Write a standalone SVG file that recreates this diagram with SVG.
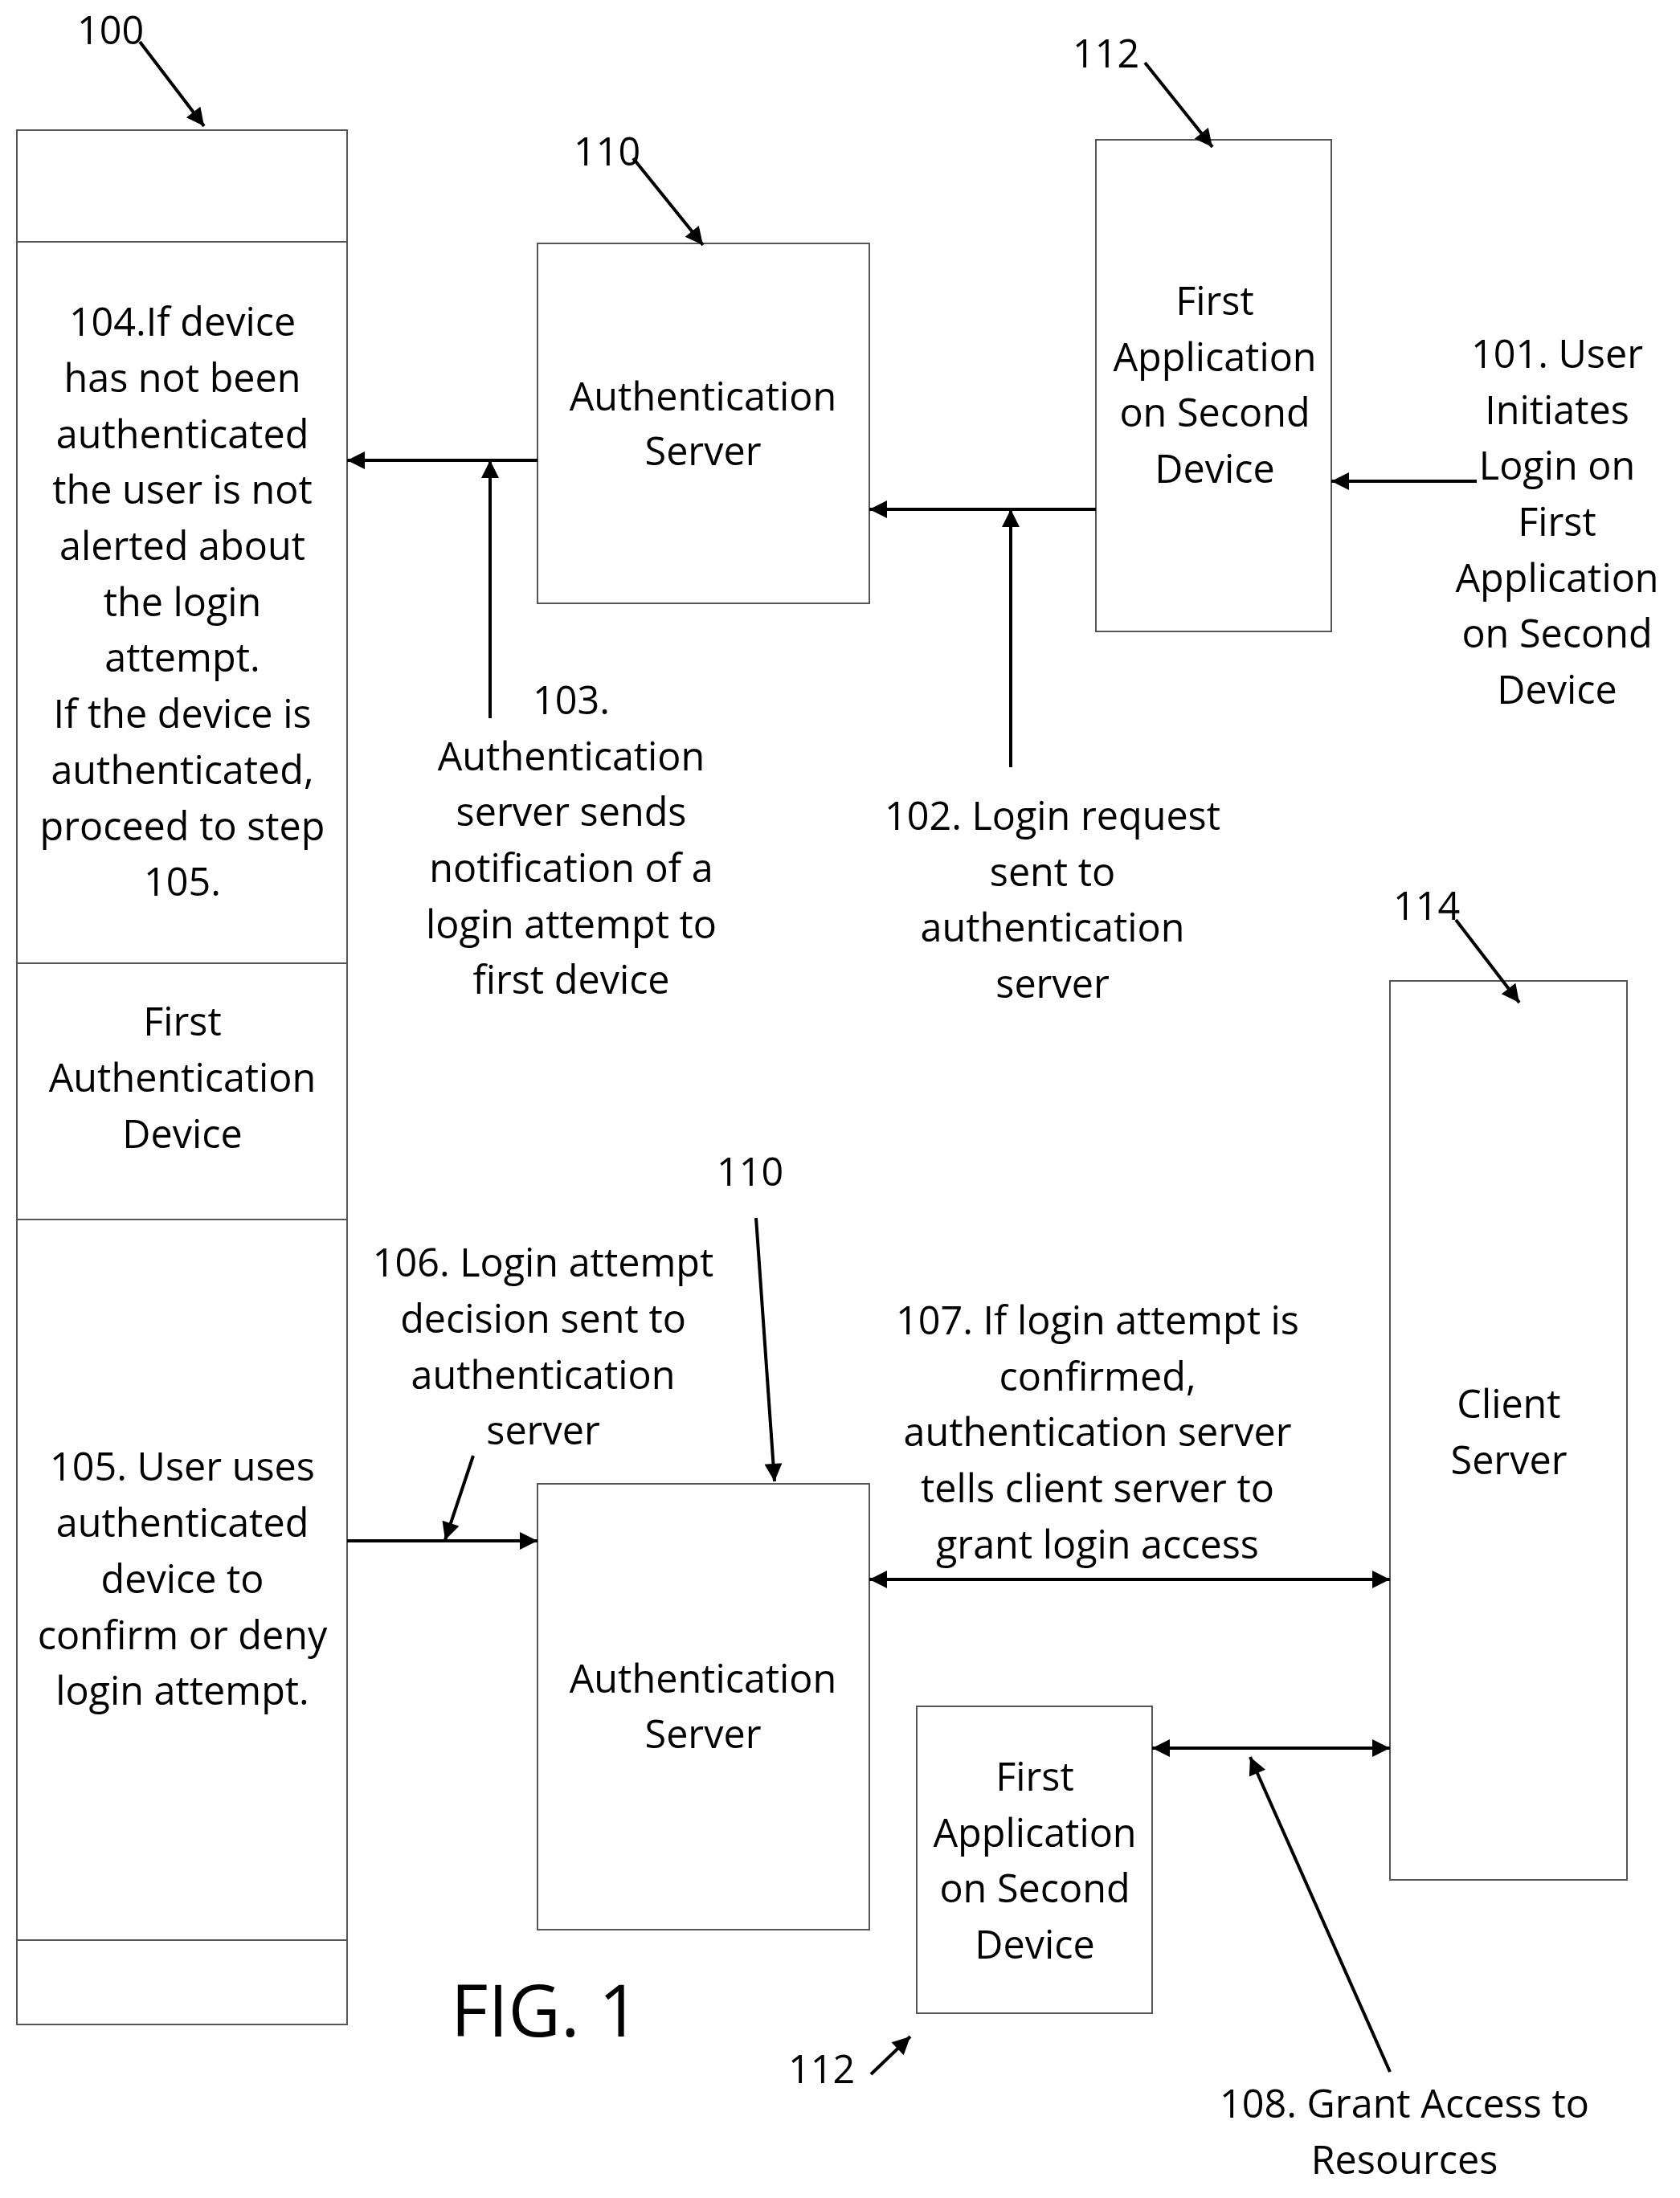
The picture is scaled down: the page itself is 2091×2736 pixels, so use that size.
<svg xmlns="http://www.w3.org/2000/svg" width="2091" height="2736" viewBox="0 0 2091 2736">
<style>
rect{fill:#fff;stroke:#555;stroke-width:2}
.l{stroke:#000;stroke-width:4;fill:none}
text{font-family:"Open Sans","Noto Sans",sans-serif;font-size:48.5px;fill:#000;text-anchor:middle}
.s{text-anchor:start}
</style>
<defs>
<marker id="a" viewBox="0 0 10 10" refX="10" refY="5" markerWidth="6" markerHeight="5.5" orient="auto-start-reverse" markerUnits="strokeWidth"><path d="M0,0L10,5L0,10z" fill="#000"/></marker>
</defs>
<rect width="2091" height="2736" style="stroke:none"/>
<g id="device100">
<rect x="21" y="162" width="411" height="2358"/>
<line x1="21" y1="301" x2="432" y2="301" stroke="#555" stroke-width="2"/>
<line x1="21" y1="1199" x2="432" y2="1199" stroke="#555" stroke-width="2"/>
<line x1="21" y1="1518" x2="432" y2="1518" stroke="#555" stroke-width="2"/>
<line x1="21" y1="2415" x2="432" y2="2415" stroke="#555" stroke-width="2"/>
<text x="227" y="418">104.If device</text><text x="227" y="488">has not been</text><text x="227" y="558">authenticated</text><text x="227" y="627">the user is not</text><text x="227" y="697">alerted about</text><text x="227" y="767">the login</text><text x="227" y="836">attempt.</text><text x="227" y="906">If the device is</text><text x="227" y="976">authenticated,</text><text x="227" y="1046">proceed to step</text><text x="227" y="1115">105.</text>
<text x="227" y="1289">First</text><text x="227" y="1359">Authentication</text><text x="227" y="1429">Device</text>
<text x="227" y="1843">105. User uses</text><text x="227" y="1913">authenticated</text><text x="227" y="1983">device to</text><text x="227" y="2053">confirm or deny</text><text x="227" y="2122">login attempt.</text>
</g>
<g id="auth1"><rect x="669" y="303" width="413" height="448"/><text x="875" y="511">Authentication</text><text x="875" y="579">Server</text></g>
<g id="app1"><rect x="1364" y="174" width="293" height="612"/><text x="1512" y="392">First</text><text x="1512" y="462">Application</text><text x="1512" y="531">on Second</text><text x="1512" y="601">Device</text></g>
<g id="client"><rect x="1730" y="1221" width="295" height="1119"/><text x="1878" y="1765">Client</text><text x="1878" y="1835">Server</text></g>
<g id="auth2"><rect x="669" y="1847" width="413" height="555"/><text x="875" y="2107">Authentication</text><text x="875" y="2176">Server</text></g>
<g id="app2"><rect x="1141" y="2124" width="293" height="382"/><text x="1288" y="2229">First</text><text x="1288" y="2299">Application</text><text x="1288" y="2368">on Second</text><text x="1288" y="2438">Device</text></g>
<g id="connectors" class="l">
<line x1="1838" y1="599" x2="1657" y2="599" marker-end="url(#a)"/>
<line x1="1364" y1="634" x2="1082" y2="634" marker-end="url(#a)"/>
<line x1="1258" y1="955" x2="1258" y2="634" marker-end="url(#a)"/>
<line x1="669" y1="573" x2="432" y2="573" marker-end="url(#a)"/>
<line x1="610" y1="894" x2="610" y2="573" marker-end="url(#a)"/>
<line x1="432" y1="1918" x2="669" y2="1918" marker-end="url(#a)"/>
<line x1="589" y1="1812" x2="554" y2="1917" marker-end="url(#a)"/>
<line x1="941" y1="1516" x2="964" y2="1844" marker-end="url(#a)"/>
<line x1="1082" y1="1966" x2="1730" y2="1966" marker-start="url(#a)" marker-end="url(#a)"/>
<line x1="1434" y1="2176" x2="1730" y2="2176" marker-start="url(#a)" marker-end="url(#a)"/>
<line x1="1730" y1="2579" x2="1556" y2="2187" marker-end="url(#a)"/>
<line x1="174" y1="52" x2="254" y2="157" marker-end="url(#a)"/>
<line x1="788" y1="197" x2="875" y2="305" marker-end="url(#a)"/>
<line x1="1425" y1="78" x2="1509" y2="183" marker-end="url(#a)"/>
<line x1="1812" y1="1145" x2="1891" y2="1248" marker-end="url(#a)"/>
<line x1="1084" y1="2582" x2="1133" y2="2535" marker-end="url(#a)"/>
</g>
<g id="labels">
<text class="s" x="96" y="55">100</text>
<text class="s" x="714" y="206">110</text>
<text class="s" x="1335" y="84">112</text>
<text class="s" x="1734" y="1145">114</text>
<text class="s" x="892" y="1476">110</text>
<text class="s" x="981" y="2593">112</text>
<text class="s" x="561" y="2535" style="font-size:90px">FIG. 1</text>
<text x="1938" y="458">101. User</text><text x="1938" y="528">Initiates</text><text x="1938" y="597">Login on</text><text x="1938" y="667">First</text><text x="1938" y="737">Application</text><text x="1938" y="806">on Second</text><text x="1938" y="876">Device</text>
<text x="711" y="889">103.</text><text x="711" y="959">Authentication</text><text x="711" y="1028">server sends</text><text x="711" y="1098">notification of a</text><text x="711" y="1168">login attempt to</text><text x="711" y="1237">first device</text>
<text x="1310" y="1033">102. Login request</text><text x="1310" y="1103">sent to</text><text x="1310" y="1172">authentication</text><text x="1310" y="1242">server</text>
<text x="676" y="1589">106. Login attempt</text><text x="676" y="1659">decision sent to</text><text x="676" y="1729">authentication</text><text x="676" y="1798">server</text>
<text x="1366" y="1661">107. If login attempt is</text><text x="1366" y="1731">confirmed,</text><text x="1366" y="1800">authentication server</text><text x="1366" y="1870">tells client server to</text><text x="1366" y="1940">grant login access</text>
<text x="1748" y="2636">108. Grant Access to</text><text x="1748" y="2706">Resources</text>
</g>
</svg>
